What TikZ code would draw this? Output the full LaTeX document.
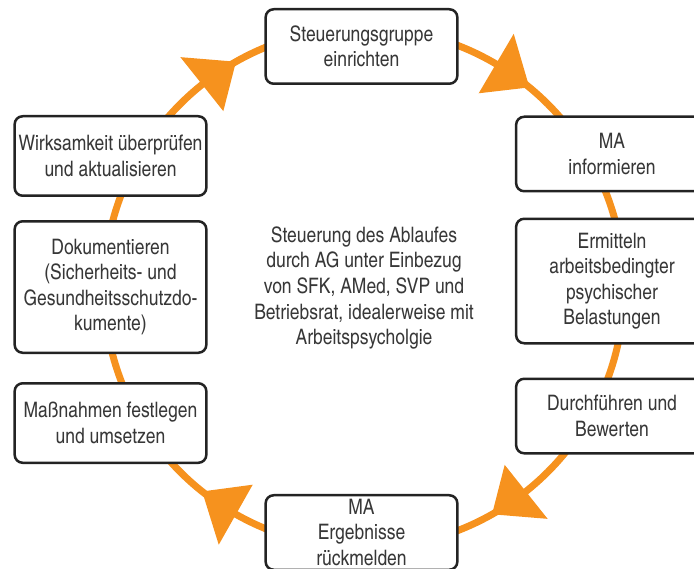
\documentclass[tikz,border=0pt]{standalone}
\usepackage{fontspec}
\setmainfont{texgyreheroscn-regular.otf}
\usetikzlibrary{positioning,calc}
\definecolor{kreisorange}{RGB}{246,146,30}
\definecolor{rahmen}{RGB}{35,35,35}
\definecolor{schrift}{RGB}{55,55,55}

\begin{document}
\begin{tikzpicture}[x=0.03cm,y=-0.03cm,step node/.style={rectangle,draw=rahmen,line width=0.075cm,rounded corners=0.24cm,fill=white,text=schrift,align=center,font=\fontsize{18.2}{21.8}\selectfont,inner sep=1pt,minimum width=5.75cm,minimum height=2.235cm}, note node/.style={align=center,text=schrift,font=\fontsize{18.2}{21.8}\selectfont}, cycle line/.style={draw=kreisorange,line width=0.21cm}]

  \useasboundingbox (0,0) rectangle (694,569);
  \coordinate (c) at (364,288);

  % Kreis mit Pfeilspitzen
  \draw[cycle line] (c) circle[radius=260];
  \foreach \b/\t in {-128.5/-119.5,-59.5/-50.5,51.5/60.5,119.5/128.5}
    \fill[kreisorange] ($(c)+(\b:226)$) -- ($(c)+(\t:260)$) -- ($(c)+(\b:295)$) -- cycle;

  \node[step node] (steuer) at (361.5,46.5) {Steuerungsgruppe\\einrichten};
  \node[step node] (info) at (612,154) {MA\\informieren};
  \node[step node, minimum height=3.735cm] (ermit) [below=0.75cm of info] {Ermitteln\\arbeitsbedingter\\psychischer\\Belastungen};
  \node[step node] (durch) [below=0.99cm of ermit] {Durchführen und\\Bewerten};
  \node[step node] (rueck) at (361.5,532.5) {MA\\Ergebnisse\\rückmelden};
  \node[step node, minimum height=2.385cm] (wirk) at (110.5,156) {Wirksamkeit überprüfen\\und aktualisieren};
  \node[step node, minimum height=3.945cm] (doku) [below=0.69cm of wirk] {Dokumentieren\\(Sicherheits- und\\Gesundheitsschutzdo-\\kumente)};
  \node[step node, minimum height=2.385cm] (mass) [below=0.84cm of doku] {Maßnahmen festlegen\\und umsetzen};

  \node[note node] (ablauf) at (c) {Steuerung des Ablaufes\\durch AG unter Einbezug\\von SFK, AMed, SVP und\\Betriebsrat, idealerweise mit\\Arbeitspsycholgie};
\end{tikzpicture}
\end{document}
